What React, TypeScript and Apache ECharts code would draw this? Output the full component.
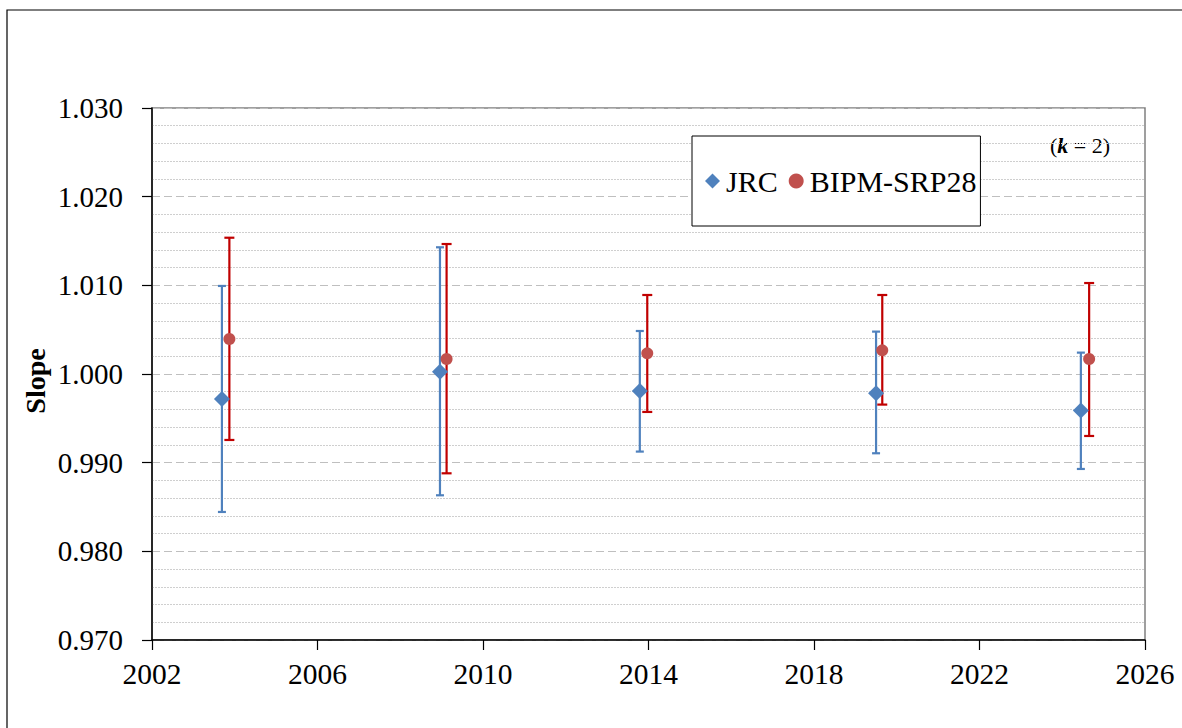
import React, { useEffect, useRef } from "react";
import * as echarts from "echarts";

const jrcYear = [2003.69, 2008.96, 2013.79, 2019.5, 2024.45];
const jrcSlope = [0.99718, 1.00026, 0.99808, 0.99782, 0.99587];
const jrcLow = [0.98444, 0.98632, 0.99125, 0.99106, 0.98929];
const jrcHigh = [1.00993, 1.01429, 1.00485, 1.00478, 1.00241];

const bipmYear = [2003.87, 2009.12, 2013.97, 2019.65, 2024.65];
const bipmSlope = [1.00395, 1.00169, 1.00233, 1.00267, 1.00169];
const bipmLow = [0.99256, 0.9888, 0.99572, 0.99655, 0.99301];
const bipmHigh = [1.01537, 1.01466, 1.00891, 1.00891, 1.01026];

const FONT = "'Liberation Serif', 'Times New Roman', serif";
const BLUE = "#4F81BD";
const RED_MARK = "#C0504D";
const RED_BAR = "#C00000";

function errorSeries(years: number[], low: number[], high: number[], color: string, capHalf: number) {
  return {
    type: "custom",
    silent: true,
    z: 2,
    data: years.map((y, i) => [y, low[i], high[i]]),
    renderItem: (params: any, api: any) => {
      const x = api.value(0);
      const lo = api.coord([x, api.value(1)]);
      const hi = api.coord([x, api.value(2)]);
      const style = { stroke: color, lineWidth: 2.2 };
      return {
        type: "group",
        children: [
          { type: "line", shape: { x1: lo[0], y1: lo[1], x2: hi[0], y2: hi[1] }, style },
          { type: "line", shape: { x1: lo[0] - capHalf, y1: lo[1], x2: lo[0] + capHalf, y2: lo[1] }, style },
          { type: "line", shape: { x1: hi[0] - capHalf, y1: hi[1], x2: hi[0] + capHalf, y2: hi[1] }, style },
        ],
      };
    },
  };
}

export default function App() {
  const ref = useRef<HTMLDivElement>(null);
  useEffect(() => {
    if (!ref.current) return;
    const chart = echarts.init(ref.current, null, { renderer: "svg" });
    chart.setOption({
      animation: false,
      backgroundColor: "#ffffff",
      textStyle: { fontFamily: FONT },
      grid: {
        left: 152,
        right: 37,
        top: 108,
        bottom: 88,
        show: true,
        borderColor: "#808080",
        borderWidth: 1.5,
        backgroundColor: "transparent",
      },
      legend: {
        left: 692,
        top: 136,
        orient: "horizontal",
        backgroundColor: "#ffffff",
        borderColor: "#000000",
        borderWidth: 1,
        borderRadius: 0,
        padding: [30, 4, 30, 13],
        itemGap: 11,
        itemWidth: 15,
        itemHeight: 15,
        itemStyle: { opacity: 1 },
        textStyle: { fontFamily: FONT, fontSize: 30, color: "#000000", padding: [0, 0, 0, 1] },
        data: [
          { name: "JRC", icon: "diamond" },
          { name: "BIPM-SRP28", icon: "circle" },
        ],
      },
      xAxis: {
        type: "value",
        min: 2002,
        max: 2026,
        interval: 4,
        axisLine: { show: true, onZero: false, lineStyle: { color: "#000000", width: 1.5 } },
        axisTick: { show: true, inside: false, length: 10, lineStyle: { color: "#000000", width: 1.2 } },
        axisLabel: {
          color: "#000000",
          fontFamily: FONT,
          fontSize: 29.5,
          margin: 19,
          formatter: (v: number) => String(Math.round(v)),
        },
        splitLine: { show: false },
      },
      yAxis: {
        type: "value",
        min: 0.97,
        max: 1.03,
        interval: 0.01,
        axisLine: { show: true, onZero: false, lineStyle: { color: "#000000", width: 1.5 } },
        axisTick: { show: true, inside: false, length: 10, lineStyle: { color: "#000000", width: 1.2 } },
        axisLabel: {
          color: "#000000",
          fontFamily: FONT,
          fontSize: 29,
          margin: 29,
          formatter: (v: number) => v.toFixed(3),
        },
        splitLine: { show: true, lineStyle: { color: "#BFBFBF", type: [8, 4], width: 1 } },
        minorTick: { show: false, splitNumber: 5 },
        minorSplitLine: { show: true, lineStyle: { color: "#CFCFCF", type: [2, 1], width: 1 } },
      },
      graphic: [
        {
          type: "rect",
          shape: { x: 7, y: 10, width: 1400, height: 900 },
          style: { fill: "none", stroke: "#000000", lineWidth: 1.2 },
          silent: true,
        },
        {
          type: "text",
          x: 35,
          y: 381,
          rotation: Math.PI / 2,
          style: {
            text: "Slope",
            font: `bold 28px ${FONT}`,
            fill: "#000000",
            align: "center",
            verticalAlign: "middle",
          },
        },
        {
          type: "text",
          x: 1080,
          y: 145,
          style: {
            text: "({k|k} = 2)",
            font: `22px ${FONT}`,
            fill: "#000000",
            align: "center",
            verticalAlign: "middle",
            rich: {
              k: { font: `italic bold 22px ${FONT}`, fill: "#000000" },
            },
          },
        },
      ],
      series: [
        errorSeries(jrcYear, jrcLow, jrcHigh, BLUE, 4),
        errorSeries(bipmYear, bipmLow, bipmHigh, RED_BAR, 5),
        {
          name: "JRC",
          type: "scatter",
          z: 3,
          symbol: "diamond",
          symbolSize: 16,
          itemStyle: { color: BLUE, opacity: 1 },
          data: jrcYear.map((y, i) => [y, jrcSlope[i]]),
        },
        {
          name: "BIPM-SRP28",
          type: "scatter",
          z: 3,
          symbol: "circle",
          symbolSize: 12,
          itemStyle: { color: RED_MARK, opacity: 1 },
          data: bipmYear.map((y, i) => [y, bipmSlope[i]]),
        },
      ],
    });
    return () => chart.dispose();
  }, []);
  return (
    <div
      ref={ref}
      style={{ position: "fixed", left: 0, top: 0, width: 1182, height: 728 }}
    />
  );
}
